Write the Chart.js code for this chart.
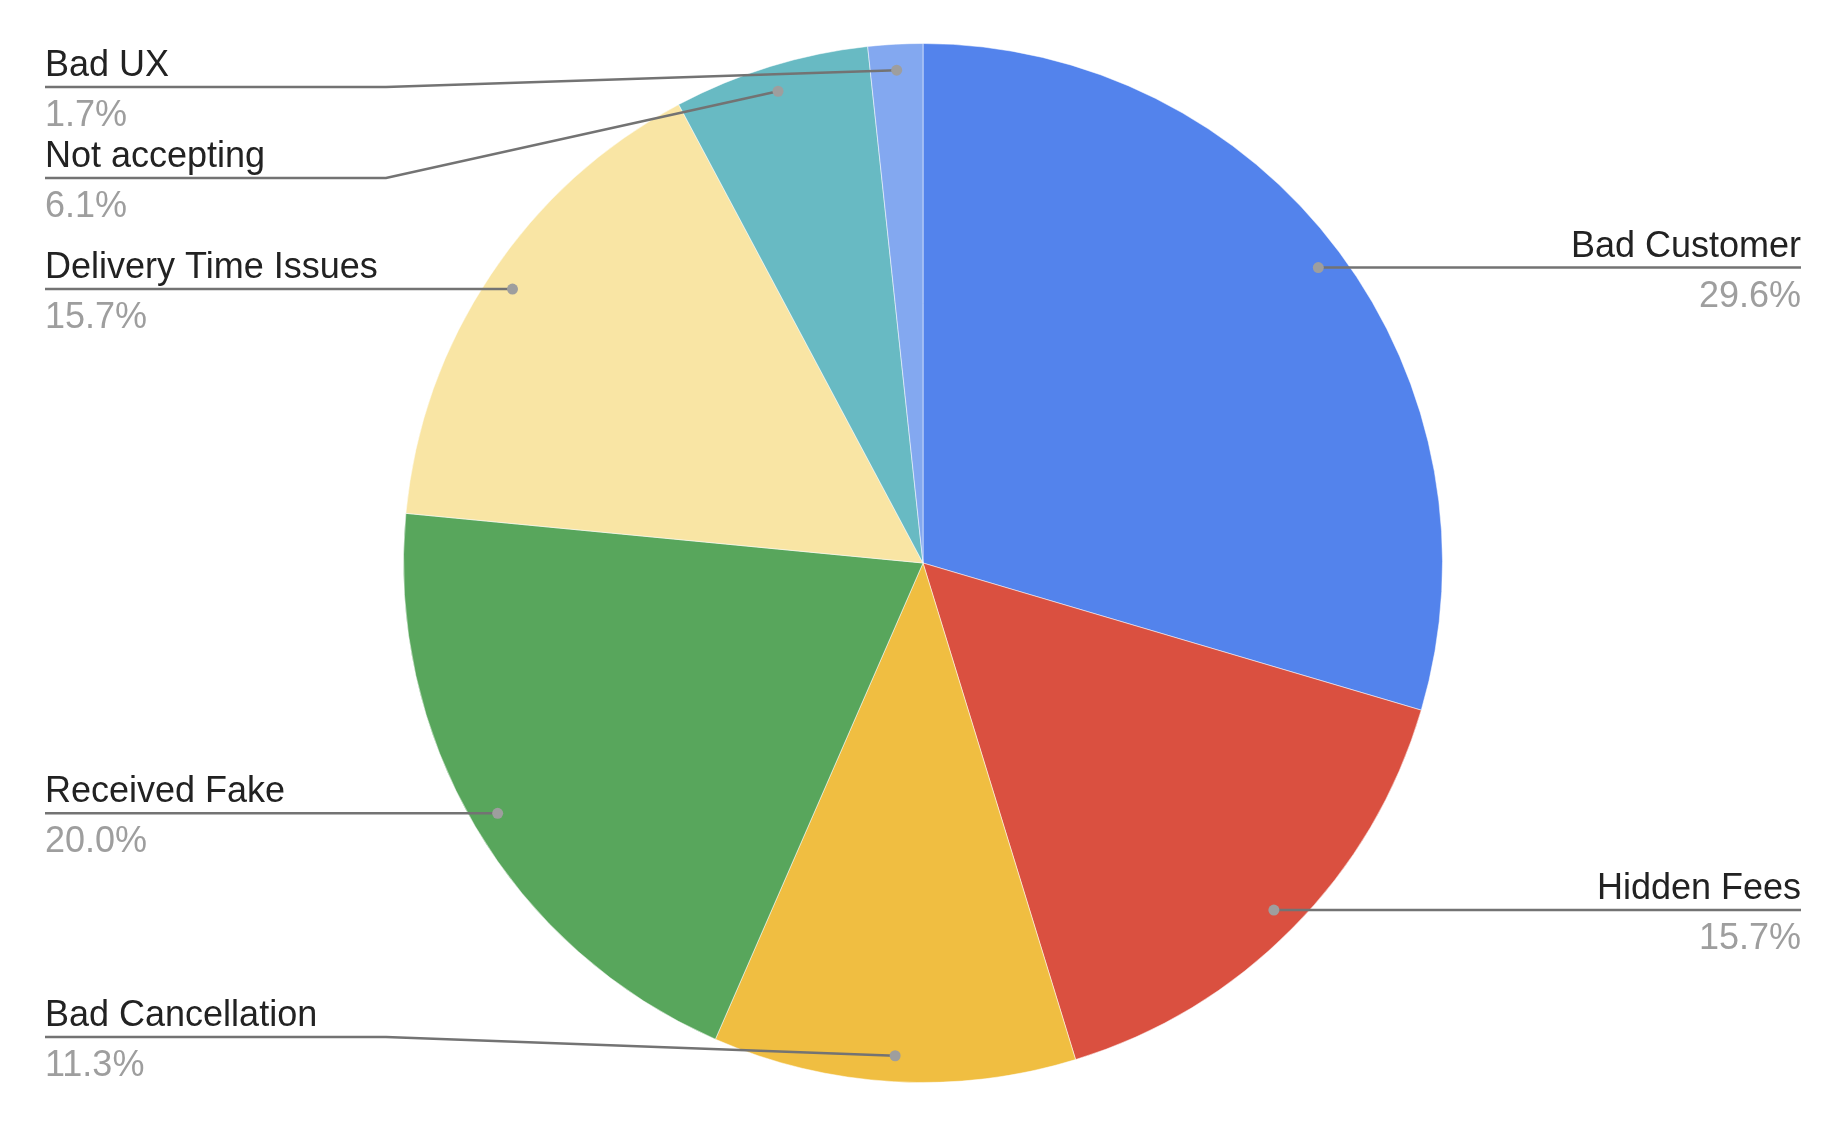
<!DOCTYPE html>
<html>
<head>
<meta charset="utf-8">
<script src="https://cdn.jsdelivr.net/npm/chart.js@4/dist/chart.umd.min.js"></script>
<style>
  html, body { margin: 0; padding: 0; background: #fff; }
  #wrap { width: 1846px; height: 1126px; position: relative; }
</style>
</head>
<body>
<div id="wrap"><canvas id="c" width="1846" height="1126"></canvas></div>
<script>
const categories = ["Bad Customer", "Hidden Fees", "Bad Cancellation", "Received Fake", "Delivery Time Issues", "Not accepting", "Bad UX"];
const shares = [29.6, 15.7, 11.3, 20.0, 15.7, 6.1, 1.7];
const colors = ["#5383EC", "#DA5040", "#F0BE41", "#58A65C", "#F9E5A4", "#68BAC3", "#83A8F0"];

const FONT = "Arial, 'Liberation Sans', sans-serif";

const leaderPlugin = {
  id: 'leaders',
  afterDraw(chart) {
    const ctx = chart.ctx;
    const meta = chart.getDatasetMeta(0);
    const data = chart.data.datasets[0].data;
    const total = data.reduce((a, b) => a + b, 0);
    const W = chart.width;
    const leftX = 45, rightX = W - 45;
    const elbowL = 386, elbowR = W - 386;
    const minY = 87, maxY = 1037, gap = 91;
    const items = meta.data.map((arc, i) => {
      const p = arc.getProps(['x', 'y', 'startAngle', 'endAngle', 'outerRadius'], true);
      const mid = (p.startAngle + p.endAngle) / 2;
      const r = p.outerRadius * 0.95;
      const dx = p.x + Math.cos(mid) * r;
      const dy = p.y + Math.sin(mid) * r;
      return { i, dx, dy, right: Math.cos(mid) >= 0, pct: (data[i] / total * 100).toFixed(1) + '%' };
    });
    ['L', 'R'].forEach(side => {
      const list = items.filter(it => (side === 'R') === it.right).sort((a, b) => a.dy - b.dy);
      list.forEach(it => { it.ly = Math.min(maxY, Math.max(minY, it.dy)); });
      for (let k = 1; k < list.length; k++) list[k].ly = Math.max(list[k].ly, list[k - 1].ly + gap);
      for (let k = list.length - 2; k >= 0; k--) list[k].ly = Math.min(list[k].ly, list[k + 1].ly - gap);
    });
    ctx.save();
    items.forEach(it => {
      const x0 = it.right ? rightX : leftX;
      const xe = it.right ? elbowR : elbowL;
      ctx.strokeStyle = '#737373';
      ctx.lineWidth = 2.5;
      ctx.beginPath();
      ctx.moveTo(x0, it.ly);
      ctx.lineTo(xe, it.ly);
      ctx.lineTo(it.dx, it.dy);
      ctx.stroke();
      ctx.fillStyle = '#9E9E9E';
      ctx.beginPath();
      ctx.arc(it.dx, it.dy, 5.5, 0, Math.PI * 2);
      ctx.fill();
      ctx.font = '36px ' + FONT;
      ctx.textAlign = it.right ? 'right' : 'left';
      ctx.textBaseline = 'alphabetic';
      ctx.fillStyle = '#222222';
      ctx.fillText(categories[it.i], x0, it.ly - 11);
      ctx.fillStyle = '#9E9E9E';
      ctx.fillText(it.pct, x0, it.ly + 39);
    });
    ctx.restore();
  }
};

new Chart(document.getElementById('c'), {
  type: 'pie',
  data: {
    labels: categories,
    datasets: [{
      data: shares,
      backgroundColor: colors,
      borderColor: 'rgba(255,255,255,0.5)',
      borderWidth: 1
    }]
  },
  options: {
    responsive: false,
    animation: false,
    layout: { padding: { top: 43, bottom: 43, left: 0, right: 0 } },
    plugins: {
      legend: { display: false },
      tooltip: { enabled: false }
    }
  },
  plugins: [leaderPlugin]
});
</script>
</body>
</html>
